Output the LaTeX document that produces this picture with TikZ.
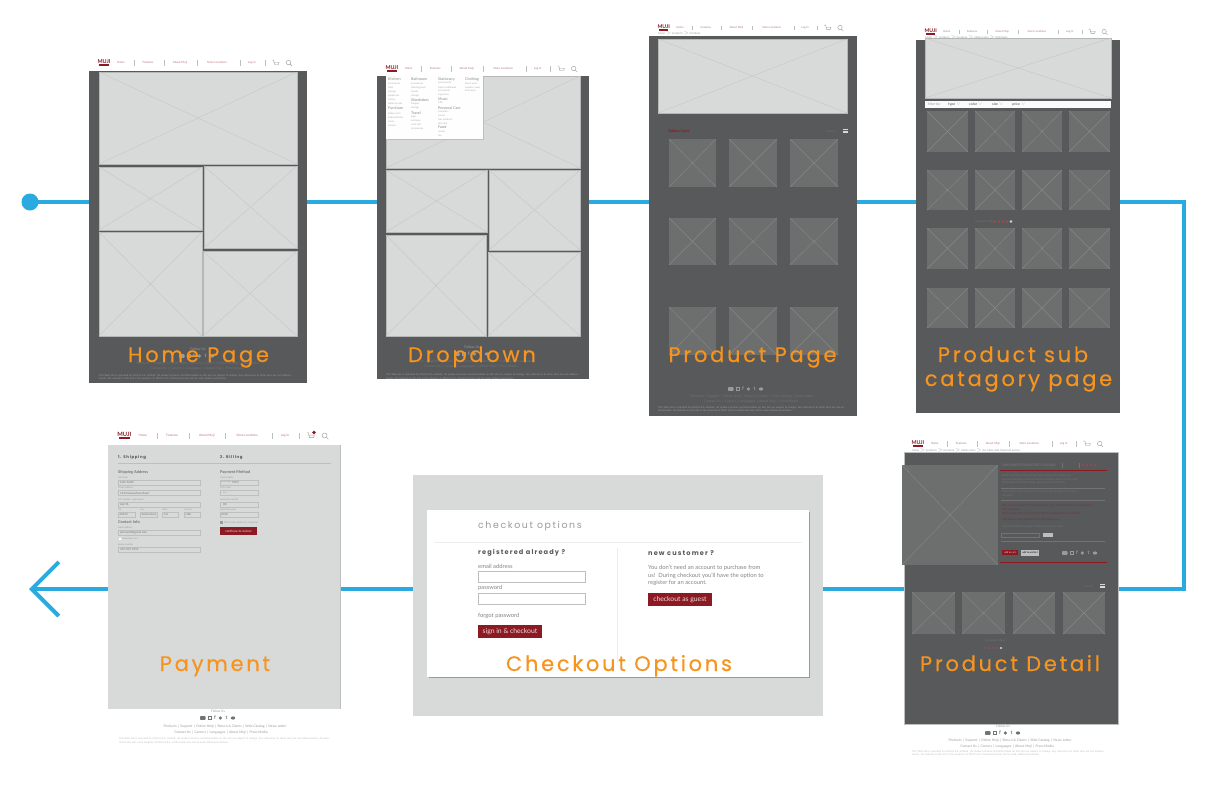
\documentclass[tikz,border=0pt]{standalone}
\usepackage{fontspec}
\setmainfont{Lato}
\newfontfamily\labelfont[LetterSpace=13,FakeBold=0.35]{Poppins}
\newfontfamily\headfont[LetterSpace=17]{Poppins}
\usepackage{tikz}
\usetikzlibrary{positioning,arrows.meta,backgrounds}

\definecolor{flowblue}{HTML}{29ABE2}
\definecolor{labelorange}{HTML}{F7941E}
\definecolor{pagegrey}{HTML}{58595B}
\definecolor{lightgrey}{HTML}{D8DAD9}
\definecolor{tilegrey}{HTML}{6D6E6E}
\definecolor{brand}{HTML}{8B1A23}
\definecolor{dimgrey}{HTML}{727374}
\definecolor{softgrey}{HTML}{9A9B9C}
\definecolor{fieldgrey}{HTML}{BDBEBE}
\definecolor{crossgrey}{HTML}{C5C7C6}
\definecolor{crossdark}{HTML}{868787}

\tikzset{
  flow/.style={flowblue,line width=4pt},
  pagebox/.style={fill=#1,inner sep=0pt,outer sep=0pt,anchor=north west},
  pagelabel/.style={labelorange,anchor=base,font=\labelfont\fontsize{21}{21}\selectfont,inner sep=0pt},
  tilelight/.style={fill=lightgrey,draw=fieldgrey!80!softgrey,line width=.4pt},
  tilelightcross/.style={draw=crossgrey,line width=.4pt},
  tiledark/.style={fill=tilegrey,draw=none},
  tiledarkcross/.style={draw=crossdark,line width=.4pt},
  navitem/.style={brand!60!white,inner sep=0pt,text height=2.2pt,text depth=.6pt,font=\fontsize{2.9}{3}\selectfont},
  navsep/.style={draw=fieldgrey,line width=.3pt},
  finetext/.style={anchor=west,inner sep=0pt,font=\fontsize{2.8}{3}\selectfont},
  filtertext/.style={anchor=west,inner sep=0pt,font=\fontsize{3.5}{4}\selectfont},
  menuhead/.style={anchor=west,inner sep=0pt,text=dimgrey!85!white,font=\fontsize{3.7}{4}\selectfont},
  menuitem/.style={anchor=west,inner sep=0pt,text=softgrey!85!white,font=\fontsize{2.4}{3}\selectfont},
  legal/.style={anchor=north west,inner sep=0pt,text width=#1pt,align=left,font=\fontsize{2.55}{3.9}\selectfont},
  fieldbox/.style={draw=fieldgrey,line width=.6pt,fill=none},
  formhead/.style={anchor=west,inner sep=0pt,text=dimgrey,font=\bfseries\fontsize{3.9}{4}\selectfont},
  formlabel/.style={anchor=west,inner sep=0pt,text=softgrey,font=\fontsize{2.4}{3}\selectfont},
  formvalue/.style={anchor=west,inner sep=0pt,text=dimgrey,font=\fontsize{2.8}{3}\selectfont},
  redbutton/.style={fill=brand,text=white!85!brand,inner sep=0pt,outer sep=0pt,anchor=north west},
  bodytext/.style={anchor=west,inner sep=0pt,text=softgrey!85!black,font=\fontsize{5.8}{7}\selectfont},
}

\newcommand{\tilebox}[5]{
  \draw[tile#1] (#2,#3) rectangle (#4,#5);
  \draw[tile#1cross] (#2,#3) -- (#4,#5) (#2,#5) -- (#4,#3);
}
\newcommand{\navbar}[4]{
  \begin{scope}[name prefix=#1-,shift={(#2,#3)},scale=#4,transform shape]
    \node[brand,inner sep=0pt,font=\bfseries\fontsize{5.4}{5}\selectfont] (logo) at (5,-1.7) {MUJI};
    \fill[brand] (0.2,.6) rectangle (9.8,3.2);
    \node[navitem] (itemhome) at (22,0) {Home};
    \draw[navsep] (35,-2.6) -- (35,2.6);
    \node[navitem] (itemfeatures) at (49,0) {Features};
    \draw[navsep] (65,-2.6) -- (65,2.6);
    \node[navitem] (itemabout) at (81,0) {About Muji};
    \draw[navsep] (98,-2.6) -- (98,2.6);
    \node[navitem] (itemstore) at (118,0) {Store Locations};
    \draw[navsep] (141,-2.6) -- (141,2.6);
    \node[navitem] (itemlog) at (153,0) {Log In};
    \draw[navsep] (166,-2.6) -- (166,2.6);
    \draw[draw=softgrey,line width=.4pt] (173,-3) -- (174.5,-3) -- (175.5,1.5) -- (179.5,1.5) (175,-.8) -- (180,-.8) -- (179.5,1.5);
    \draw[draw=softgrey,line width=.4pt] (189.5,-.5) circle (2.3) (191.2,1.2) -- (193,3);
  \end{scope}
}
\newcommand{\socialrow}[3]{
  \begin{scope}[shift={(#1,#2)},color=#3,text=#3]
    \fill[rounded corners=.6pt] (-18,-1.8) rectangle (-12.5,1.8);
    \draw[line width=.6pt] (-10,-1.6) rectangle (-6.8,1.6);
    \node[inner sep=0pt,font=\bfseries\fontsize{5}{5}\selectfont] at (-3,0) {f};
    \fill (2.4,0) circle (1.8);
    \node[inner sep=0pt,font=\bfseries\fontsize{5}{5}\selectfont] at (8.5,0) {t};
    \fill (15,0) ellipse (2.2 and 1.6);
  \end{scope}
}
\newcommand{\footerlinks}[6]{
  \node[inner sep=0pt,text=#6,font=\fontsize{3.4}{3}\selectfont] (#1a) at (#2,#3) {Products \,|\, Support \,|\, Online Help \,|\, Return \& Claims \,|\, Web Catalog \,|\, News Letter};
  \node[inner sep=0pt,text=#6,font=\fontsize{3.4}{3}\selectfont] (#1b) at (#4,#5) {Contact Us \,|\, Careers \,|\, Languages \,|\, About Muji \,|\, Press Media};
}
\newcommand{\legaltext}{This Web site is operated by MUJI U.S.A. Limited. All product pictures and information on this site are subject to change. Any references to other sites are not endorsements. All material on this site is the property of MUJI U.S.A. Limited and may not be used without permission.}

\begin{document}
\begin{tikzpicture}[x=1pt,y=-1pt]
  \useasboundingbox (0,0) rectangle (1224,793);

  % pages
  \node[pagebox=pagegrey,minimum width=218pt,minimum height=312pt] (homepage) at (89,71) {};
  \node[pagebox=pagegrey,minimum width=212pt,minimum height=303pt] (droppage) at (377,76) {};
  \node[pagebox=pagegrey,minimum width=208pt,minimum height=380pt] (productpage) at (649,36) {};
  \node[pagebox=pagegrey,minimum width=204pt,minimum height=373pt] (subpage) at (916,40) {};
  \node[pagebox=pagegrey,draw=fieldgrey,line width=.6pt,minimum width=214pt,minimum height=272pt] (detailpage) at (904,452) {};
  \node[pagebox=lightgrey,minimum width=410pt,minimum height=241pt] (checkoutpage) at (413,475) {};
  \node[pagebox=lightgrey,minimum width=232pt,minimum height=264pt] (paypage) at (108,445) {};
  \draw[draw=fieldgrey,line width=.6pt] (paypage.north east) -- (paypage.south east);

  % flow
  \fill[flowblue] (30,202) circle (8.5pt);
  \node[inner sep=0pt] (startdot) at (30,202) {};
  \coordinate (turntop) at (1184,202);
  \coordinate (turnbot) at (1184,589);
  \coordinate (arrowend) at (29,589);
  \begin{pgfonlayer}{background}
    \fill[white] (0,0) rectangle (1224,793);
    \draw[flow] (startdot) -- (homepage.west |- startdot);
    \draw[flow] (homepage.east |- startdot) -- (droppage.west |- startdot);
    \draw[flow] (droppage.east |- startdot) -- (productpage.west |- startdot);
    \draw[flow] (productpage.east |- startdot) -- (subpage.west |- startdot);
    \draw[flow,line join=miter] (subpage.east |- turntop) -- (turntop) -- (turnbot) -- (detailpage.east |- turnbot);
    \draw[flow] (detailpage.west |- turnbot) -- (checkoutpage.east |- turnbot);
    \draw[flow] (checkoutpage.west |- turnbot) -- (paypage.east |- turnbot);
    \draw[flow,-{Straight Barb[length=27pt,width=54pt,line width=4pt]}] (paypage.west |- turnbot) -- (arrowend);
  \end{pgfonlayer}

  % home page
  \navbar{home}{99}{63}{1}
  \tilebox{light}{99}{72}{297}{164}
  \tilebox{light}{99}{167}{202}{230}
  \tilebox{light}{204}{166}{297}{248}
  \tilebox{light}{99}{232}{202}{336}
  \tilebox{light}{203}{251}{297}{336}
  \node[inner sep=0pt,text=softgrey,font=\fontsize{3.5}{4}\selectfont] (homefollow) at (198,349) {Follow Us};
  \socialrow{197}{356}{softgrey}
  \footerlinks{homelinks}{198}{364}{197}{369}{dimgrey}
  \node[legal=196,text=softgrey] (homelegal) at (99,374) {\legaltext};

  % dropdown
  \navbar{drop}{387}{69}{.985}
  \tilebox{light}{386}{76}{580}{168}
  \tilebox{light}{386}{170}{487}{232}
  \tilebox{light}{489}{170}{580}{250}
  \tilebox{light}{386}{235}{486}{336}
  \tilebox{light}{488}{252}{580}{336}
  \fill[fieldgrey] (387.5,76.5) rectangle (484,140);
  \node[pagebox=white!96!lightgrey,minimum width=97pt,minimum height=64pt] (dropmenu) at (386,75) {};
  \fill[white!96!lightgrey] (405,75) -- (408,72.5) -- (411,75) -- cycle;
  \node[menuhead] (m1) at (388,79) {Kitchen};
  \node[menuitem] (m2) at (388,83.4) {accessories};
  \node[menuitem] (m3) at (388,87.6) {food};
  \node[menuitem] (m4) at (388,91.6) {storage};
  \node[menuitem] (m5) at (388,95.8) {appliances};
  \node[menuitem] (m6) at (388,100) {cutlery};
  \node[menuitem] (m7) at (388,104.2) {plates \& cups};
  \node[menuhead] (m8) at (388,108.2) {Furniture};
  \node[menuitem] (m9) at (388,113.3) {tables/carts};
  \node[menuitem] (m10) at (388,117.4) {beds/mattress};
  \node[menuitem] (m11) at (388,121.4) {chairs};
  \node[menuitem] (m12) at (388,125.4) {shelves};
  \node[menuhead] (m13) at (411,79) {Bathroom};
  \node[menuitem] (m14) at (411,83.6) {accessories};
  \node[menuitem] (m15) at (411,87.6) {cleaning tools};
  \node[menuitem] (m16) at (411,91.6) {towels};
  \node[menuitem] (m17) at (411,95.6) {storage};
  \node[menuhead] (m18) at (411,100) {Wardrobes};
  \node[menuitem] (m19) at (411,104.2) {hangers};
  \node[menuitem] (m20) at (411,108.2) {storage};
  \node[menuhead] (m21) at (411,112.7) {Travel};
  \node[menuitem] (m22) at (411,117) {bags};
  \node[menuitem] (m23) at (411,121) {suitcases};
  \node[menuitem] (m24) at (411,125) {neck rolls};
  \node[menuitem] (m25) at (411,129) {accessories};
  \node[menuhead] (m26) at (438,79) {Stationary};
  \node[menuitem] (m27) at (438,83.3) {pens/pencils};
  \node[menuitem] (m28) at (438,87.4) {paper/notebooks};
  \node[menuitem] (m29) at (438,91) {accessories};
  \node[menuitem] (m30) at (438,95) {organizers};
  \node[menuhead] (m31) at (438,99) {Music};
  \node[menuitem] (m32) at (438,103) {CDs};
  \node[menuhead] (m33) at (438,107.7) {Personal Care};
  \node[menuitem] (m34) at (438,111.7) {cosmetics};
  \node[menuitem] (m35) at (438,115.4) {aroma};
  \node[menuitem] (m36) at (438,119.4) {hair products};
  \node[menuitem] (m37) at (438,123.4) {skin care};
  \node[menuhead] (m38) at (438,127) {Food};
  \node[menuitem] (m39) at (438,131.6) {snacks};
  \node[menuitem] (m40) at (438,135.4) {tea};
  \node[menuhead] (m41) at (465,79.3) {Clothing};
  \node[menuitem] (m42) at (465,83.3) {men's wear};
  \node[menuitem] (m43) at (465,87.4) {women's wear};
  \node[menuitem] (m44) at (465,91) {kid's wear};
  \node[inner sep=0pt,text=softgrey,font=\fontsize{3.5}{4}\selectfont] (dropfollow) at (472,347) {Follow Us};
  \socialrow{472}{354}{softgrey}
  \footerlinks{droplinks}{472}{362}{471}{367}{dimgrey}
  \node[legal=194,text=softgrey] (droplegal) at (386,373.5) {\legaltext};

  % product page
  \navbar{prod}{659}{28}{.955}
  \node[finetext,text=softgrey] (prodcrumb) at (658,33.5) {home $>$ products $>$ furniture};
  \tilebox{light}{658}{39}{847}{113}
  \node[anchor=west,inner sep=0pt,text=brand,font=\bfseries\fontsize{3.8}{4}\selectfont] (prodtitle) at (668,131.5) {Tables/Carts};
  \node[finetext,text=dimgrey] (prodview) at (826,131) {view all};
  \draw[white!85!black,line width=1.6pt,dash pattern=on 1.7pt off .3pt] (843,129.6) -- (848,129.6) (843,132) -- (848,132);
  \tilebox{dark}{669}{139}{716}{187}
  \tilebox{dark}{729}{139}{777}{187}
  \tilebox{dark}{790}{139}{838}{187}
  \tilebox{dark}{669}{218}{716}{265}
  \tilebox{dark}{729}{218}{777}{265}
  \tilebox{dark}{790}{218}{838}{265}
  \tilebox{dark}{669}{307}{716}{355}
  \tilebox{dark}{729}{307}{777}{355}
  \tilebox{dark}{790}{307}{838}{355}
  \socialrow{746}{389}{softgrey}
  \footerlinks{prodlinks}{752}{397}{751}{402}{dimgrey}
  \node[legal=188,text=softgrey] (prodlegal) at (658,406) {\legaltext};

  % product sub catagory page
  \navbar{sub}{926}{32}{.94}
  \tilebox{light}{925}{38}{1111}{98}
  \node[finetext,text=softgrey] (subcrumb) at (925,37) {home $>$ products $>$ furniture $>$ tables/carts $>$ bathroom};
  \fill[white!88!lightgrey] (925,100.5) rectangle (1111,108);
  \node[filtertext,text=softgrey] (subfilter) at (928,104.3) {filter by:};
  \node[filtertext,text=dimgrey] (subtype) at (948,104.3) {\textbf{type} {\color{fieldgrey}$\vee$}};
  \node[filtertext,text=dimgrey] (subcolor) at (969,104.3) {\textbf{color} {\color{fieldgrey}$\vee$}};
  \node[filtertext,text=dimgrey] (subsize) at (992,104.3) {\textbf{size} {\color{fieldgrey}$\vee$}};
  \node[filtertext,text=dimgrey] (subprice) at (1012,104.3) {\textbf{price} {\color{fieldgrey}$\vee$}};
  \tilebox{dark}{927}{111}{968}{152}
  \tilebox{dark}{975}{111}{1015}{152}
  \tilebox{dark}{1022}{111}{1062}{152}
  \tilebox{dark}{1069}{111}{1110}{152}
  \tilebox{dark}{927}{170}{968}{210}
  \tilebox{dark}{975}{170}{1015}{210}
  \tilebox{dark}{1022}{170}{1062}{210}
  \tilebox{dark}{1069}{170}{1110}{210}
  \tilebox{dark}{927}{228}{968}{269}
  \tilebox{dark}{975}{228}{1015}{269}
  \tilebox{dark}{1022}{228}{1062}{269}
  \tilebox{dark}{1069}{228}{1110}{269}
  \tilebox{dark}{927}{288}{968}{328}
  \tilebox{dark}{975}{288}{1015}{328}
  \tilebox{dark}{1022}{288}{1062}{328}
  \tilebox{dark}{1069}{288}{1110}{328}
  \node[finetext,text=dimgrey] (subrate) at (975,221.5) {customer rating};
  \fill[brand!80!white] (995,221.5) circle (1.3) (999,221.5) circle (1.3) (1003,221.5) circle (1.3) (1007,221.5) circle (1.3);
  \fill[white!85!black] (1011,221.5) circle (1.3);

  % product detail
  \navbar{detail}{913}{444}{.985}
  \node[finetext,text=softgrey] (detailcrumb) at (912,450) {home $>$ products $>$ furniture $>$ tables/carts $>$ bar table with drop leaf panels};
  \tilebox{dark}{902}{465}{998}{565}
  \node[anchor=west,inner sep=0pt,text=dimgrey,font=\bfseries\fontsize{3.4}{4}\selectfont] (detailtitle) at (1002,465.5) {OAK BAR STORAGE BED DOUBLE};
  \draw[draw=dimgrey,line width=.3pt] (1062,463) -- (1062,468) (1079,463) -- (1079,468);
  \fill[brand!80!white] (1083,465) circle (1.2) (1087,465) circle (1.2) (1091,465) circle (1.2) (1095,465) circle (1.2);
  \draw[brand,line width=1pt] (1000,470) -- (1107,470);
  \node[finetext,text=dimgrey] (d1) at (1002,476) {Solid oak frame with storage space below for linens and};
  \node[finetext,text=dimgrey] (d2) at (1002,479.5) {seasonal bedding. Smooth drawers slide on steel runners and};
  \node[finetext,text=dimgrey] (d3) at (1002,483) {the headboard holds books, glasses and small items.};
  \draw[draw=dimgrey,line width=.3pt] (1001,488) -- (1105,488);
  \node[finetext,text=dimgrey] (d4) at (1002,492) {Dimensions and materials are listed in the product care sheet};
  \node[finetext,text=dimgrey] (d5) at (1002,495.5) {included.};
  \draw[draw=dimgrey,line width=.3pt] (1001,500) -- (1105,500);
  \node[finetext,text=brand!65!pagegrey] (d6) at (1002,506) {This item is available for store pick up only. Please contact your local store};
  \node[finetext,text=brand!65!pagegrey] (d7) at (1002,509.5) {for availability.};
  \node[finetext,text=brand!65!pagegrey] (d8) at (1002,514) {Please check the store location before ordering this item online.};
  \node[finetext,text=brand!65!pagegrey] (d9) at (1002,520) {This item is being shipped from the warehouse.};
  \node[finetext,text=dimgrey] (d10) at (1002,527) {Quantity limit may apply on this product per order.};
  \draw[draw=dimgrey,line width=.5pt] (1001,533) rectangle (1039,537.5);
  \fill[fieldgrey] (1043,533) rectangle (1053,537);
  \draw[draw=dimgrey,line width=.3pt] (1001,541) -- (1105,541);
  \node[redbutton,minimum width=16pt,minimum height=5pt,font=\fontsize{2.4}{3}\selectfont] (detailadd) at (1002,550) {add to cart};
  \node[pagebox=fieldgrey,minimum width=18pt,minimum height=5.5pt,font=\fontsize{2.4}{3}\selectfont] (detailwish) at (1021,550) {add to wishlist};
  \socialrow{1080}{553}{softgrey}
  \draw[brand,line width=1pt] (1000,562) -- (1107,562);
  \node[finetext,text=dimgrey] (detailview) at (1083,586) {view all};
  \draw[white!85!black,line width=1.6pt,dash pattern=on 1.7pt off .3pt] (1100,584.6) -- (1105,584.6) (1100,587) -- (1105,587);
  \tilebox{dark}{912}{592}{955}{634}
  \tilebox{dark}{962}{592}{1005}{634}
  \tilebox{dark}{1013}{592}{1055}{634}
  \tilebox{dark}{1063}{592}{1105}{634}
  \node[finetext,text=dimgrey] (detailrate) at (985,641) {customer rating};
  \fill[brand!80!white] (985,648) circle (1.2) (989,648) circle (1.2) (993,648) circle (1.2) (997,648) circle (1.2);
  \fill[white!85!black] (1001,648) circle (1.2);
  \node[inner sep=0pt,text=softgrey,font=\fontsize{3.2}{4}\selectfont] (detailfollow) at (1003,726) {Follow Us};
  \socialrow{1003}{733}{dimgrey}
  \footerlinks{detaillinks}{1010}{740}{1007}{746}{softgrey}
  \node[legal=195,text=fieldgrey] (detaillegal) at (912,750) {\legaltext};

  % checkout options
  \fill[black!40] (428.5,511.5) rectangle (810,678);
  \node[pagebox=white,minimum width=382pt,minimum height=167pt] (checkoutcard) at (427,510) {};
  \node[anchor=west,inner sep=0pt,text=softgrey,font=\headfont\fontsize{9.4}{10}\selectfont] (checkouthead) at (478,526) {checkout options};
  \draw[draw=black!7,line width=1pt] (434,542) -- (802,542);
  \draw[draw=black!7,line width=.5pt] (617,548) -- (617,662);
  \node[anchor=west,inner sep=0pt,text=pagegrey,font=\headfont\bfseries\fontsize{6.6}{7}\selectfont] (reghead) at (478,553) {registered already ?};
  \node[bodytext] (regemail) at (478,566) {email address};
  \node[fieldbox,anchor=north west,minimum width=107pt,minimum height=11pt,inner sep=0pt] (emailbox) at (478,571) {};
  \node[bodytext] (regpass) at (478,588) {password};
  \node[fieldbox,anchor=north west,minimum width=107pt,minimum height=11pt,inner sep=0pt] (passbox) at (478,593) {};
  \node[bodytext] (regforgot) at (478,616) {forgot password};
  \node[redbutton,minimum width=64pt,minimum height=13.5pt,font=\fontsize{6.8}{7}\selectfont] (signbtn) at (478,624.5) {sign in \& checkout};
  \node[anchor=west,inner sep=0pt,text=pagegrey,font=\headfont\bfseries\fontsize{6.6}{7}\selectfont] (newhead) at (648,553) {new customer ?};
  \node[bodytext] (newa) at (648,568) {You don't need an account to purchase from};
  \node[bodytext] (newb) at (648,575.5) {us!\ \ During checkout you'll have the option to};
  \node[bodytext] (newc) at (648,583) {register for an account.};
  \node[redbutton,minimum width=64pt,minimum height=13pt,font=\fontsize{6.8}{7}\selectfont] (guestbtn) at (648,593) {checkout as guest};

  % payment
  \navbar{pay}{119}{436}{1.085}
  \fill[brand] (314,432.5) circle (1.8);
  \node[anchor=west,inner sep=0pt,text=pagegrey,font=\headfont\bfseries\fontsize{3.9}{4}\selectfont] (payship) at (118,457.7) {1. Shipping};
  \node[anchor=west,inner sep=0pt,text=pagegrey,font=\headfont\bfseries\fontsize{3.9}{4}\selectfont] (paybill) at (220,457.7) {2. Billing};
  \draw[draw=fieldgrey,line width=.4pt] (118,463.5) -- (331,463.5);
  \node[formhead] (payaddr) at (118,472.7) {Shipping Address};
  \node[formlabel] (l1) at (118,478) {full name};
  \draw[fieldbox] (118,480.3) rectangle (200,485);
  \node[formvalue] (v1) at (120,482.7) {John Smith};
  \node[formlabel] (l2) at (118,488) {street address};
  \draw[fieldbox] (118,490.5) rectangle (200,495.5);
  \node[formvalue] (v2) at (120,493) {1234 Somewhere Road};
  \node[formlabel] (l3) at (118,500) {apt number / apartment};
  \draw[fieldbox] (118,502) rectangle (200,507);
  \node[formvalue] (v3) at (120,504.5) {Apt 56};
  \node[formlabel] (l4) at (118,510) {zip};
  \node[formlabel] (l5) at (140,510) {city};
  \node[formlabel] (l6) at (162,510) {state};
  \node[formlabel] (l7) at (184,510) {country};
  \draw[fieldbox] (118,512) rectangle (135,517);
  \draw[fieldbox] (140,512) rectangle (157,517);
  \draw[fieldbox] (162,512) rectangle (178,517);
  \draw[fieldbox] (184,512) rectangle (200,517);
  \node[formvalue] (v4) at (119.5,514.5) {60154};
  \node[formvalue] (v5) at (141.5,514.5) {Somewhere};
  \node[formvalue] (v6) at (164,514.5) {CA};
  \node[formvalue] (v7) at (185.5,514.5) {USA};
  \node[formhead] (paycontact) at (118,522.5) {Contact Info};
  \node[formlabel] (l8) at (118,528) {email address};
  \draw[fieldbox] (118,530.3) rectangle (200,535);
  \node[formvalue] (v8) at (120,532.7) {johnsmith@gmail.com};
  \fill[white] (119,538) rectangle (121,540);
  \node[formlabel] (l9) at (122,539) {remember me ?};
  \node[formlabel] (l10) at (118,544.5) {phone number};
  \draw[fieldbox] (118,547) rectangle (200,552);
  \node[formvalue] (v9) at (120,549.5) {415-555-5555};
  \node[formhead] (paymethod) at (220,472.7) {Payment Method};
  \node[formlabel] (r1) at (220,478) {card number};
  \draw[fieldbox] (220,480.3) rectangle (258,485);
  \node[formvalue] (w1) at (221,482.7) {**** **** 9293};
  \node[formlabel] (r2) at (220,488) {CVV code};
  \draw[fieldbox] (220,490.5) rectangle (258,495.5);
  \node[formvalue] (w2) at (223,493) {***};
  \node[formlabel] (r3) at (220,500) {expiration month};
  \draw[fieldbox] (220,502) rectangle (258,507);
  \node[formvalue] (w3) at (223,504.5) {08};
  \node[formlabel] (r4) at (220,510) {expiration year};
  \draw[fieldbox] (220,512) rectangle (258,517);
  \node[formvalue] (w4) at (221,514.5) {2018};
  \fill[softgrey] (220,520.5) rectangle (223,523.5);
  \node[formlabel] (r5) at (224,522.5) {bill to same address as shipping?};
  \node[redbutton,minimum width=37pt,minimum height=7.5pt,font=\fontsize{3.2}{4}\selectfont] (paybtn) at (220,527.3) {continue to review};
  \node[inner sep=0pt,text=softgrey,font=\fontsize{3.2}{4}\selectfont] (payfollow) at (218,711.3) {Follow Us};
  \socialrow{218}{718}{dimgrey}
  \footerlinks{paylinks}{225}{726}{221}{732.5}{softgrey}
  \node[legal=212,text=fieldgrey] (paylegal) at (119,737.5) {\legaltext};

  % labels
  \node[pagelabel] (homelabel) at (198.5,362) {Home Page};
  \node[pagelabel] (droplabel) at (472,362) {Dropdown};
  \node[pagelabel] (productlabel) at (752.5,362) {Product Page};
  \node[pagelabel] (sublabel) at (1013,362) {Product sub};
  \node[pagelabel] (subsecond) at (1018.5,386) {catagory page};
  \node[pagelabel] (paylabel) at (215,671) {Payment};
  \node[pagelabel] (checkoutlabel) at (619,671) {Checkout Options};
  \node[pagelabel] (detaillabel) at (1010,671) {Product Detail};
\end{tikzpicture}
\end{document}
